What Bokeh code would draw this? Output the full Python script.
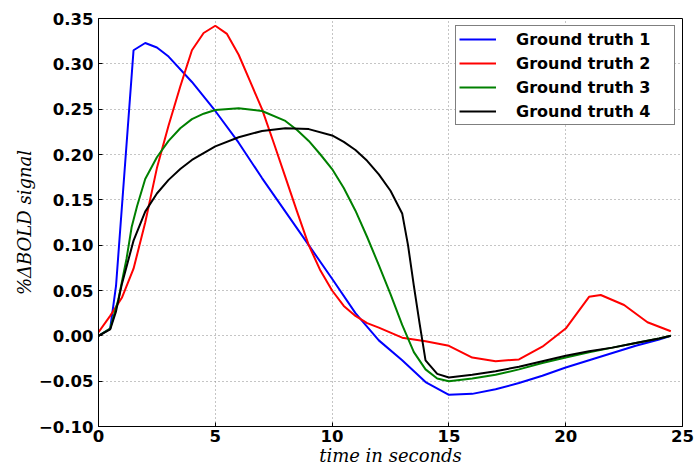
from bokeh.plotting import figure
from bokeh.models import Range1d, FixedTicker
from bokeh.embed import file_html
from bokeh.resources import INLINE

# ---- data ----
t1 = [0, 0.5, 0.75, 1.5, 2.0, 2.5, 3, 4, 5, 6, 7, 8, 9, 10, 11, 12, 13, 14, 15,
      16, 17, 18, 19, 20, 21, 22, 23, 24, 24.5]
gt1 = [0, 0.008, 0.055, 0.315, 0.323, 0.318, 0.308, 0.28, 0.248, 0.213, 0.174,
       0.137, 0.100, 0.063, 0.025, -0.005, -0.027, -0.051, -0.065, -0.064,
       -0.059, -0.052, -0.044, -0.035, -0.027, -0.019, -0.011, -0.004, 0.0]

t2 = [0, 0.5, 1, 1.5, 2, 2.5, 3, 3.5, 4, 4.5, 5, 5.5, 6, 6.5, 7, 7.5, 8, 8.5, 9,
      9.5, 10, 10.5, 11, 11.5, 12, 13, 14, 15, 16, 17, 18, 19, 20, 21, 21.5,
      22.5, 23.5, 24.5]
gt2 = [0.004, 0.022, 0.042, 0.074, 0.125, 0.185, 0.232, 0.275, 0.315, 0.334,
       0.342, 0.333, 0.31, 0.28, 0.25, 0.213, 0.175, 0.137, 0.1, 0.072, 0.05,
       0.033, 0.022, 0.014, 0.009, -0.002, -0.006, -0.011, -0.024, -0.028,
       -0.026, -0.012, 0.008, 0.043, 0.045, 0.034, 0.015, 0.005]

t3 = [0, 0.5, 0.85, 1.2, 1.42, 1.65, 2, 2.5, 3, 3.5, 4, 4.5, 5, 6, 7, 8, 8.5, 9,
      9.5, 10, 10.5, 11, 11.5, 12, 12.5, 13, 13.5, 14, 14.5, 15, 16, 17, 18, 19,
      20, 21, 22, 23, 24, 24.5]
gt3 = [0, 0.008, 0.04, 0.085, 0.12, 0.143, 0.173, 0.197, 0.215, 0.229, 0.239,
       0.245, 0.249, 0.251, 0.248, 0.237, 0.227, 0.215, 0.2, 0.184, 0.163,
       0.138, 0.109, 0.078, 0.046, 0.012, -0.018, -0.037, -0.047, -0.05,
       -0.047, -0.043, -0.037, -0.03, -0.024, -0.018, -0.013, -0.008, -0.003, 0]

t4 = [0, 0.5, 0.75, 1, 1.5, 2, 2.5, 3, 3.5, 4, 5, 6, 7, 8, 9, 10, 10.5, 11,
      11.5, 12, 12.5, 13, 13.25, 13.5, 13.75, 14, 14.5, 15, 16, 17, 18, 19, 20,
      21, 22, 23, 24, 24.5]
gt4 = [0, 0.007, 0.027, 0.057, 0.105, 0.137, 0.157, 0.172, 0.184, 0.194,
       0.209, 0.219, 0.226, 0.229, 0.228, 0.221, 0.214, 0.205, 0.193, 0.178,
       0.16, 0.135, 0.1, 0.055, 0.013, -0.027, -0.042, -0.046, -0.043, -0.039,
       -0.034, -0.028, -0.022, -0.017, -0.013, -0.008, -0.003, 0]

series_names = ["Ground truth 1", "Ground truth 2", "Ground truth 3", "Ground truth 4"]
series_colors = ["#0000ff", "#ff0000", "#008000", "#000000"]

x_ticks = [0, 5, 10, 15, 20, 25]
x_tick_labels = ["0", "5", "10", "15", "20", "25"]
y_ticks = [-0.10, -0.05, 0.00, 0.05, 0.10, 0.15, 0.20, 0.25, 0.30, 0.35]
y_tick_labels = ["\u22120.10", "\u22120.05", "0.00", "0.05", "0.10", "0.15",
                 "0.20", "0.25", "0.30", "0.35"]

x_label = "time in seconds"
y_label = "%\u0394BOLD signal"

# ---- figure ----
p = figure(width=694, height=468, output_backend="svg", toolbar_location=None,
           x_range=Range1d(0, 25), y_range=Range1d(-0.10, 0.35),
           min_border_left=98, min_border_top=18, min_border_right=12,
           min_border_bottom=0)
p.background_fill_color = "white"
p.border_fill_color = "white"
p.outline_line_color = "black"
p.outline_line_width = 1

for t, v, name, col in zip([t1, t2, t3, t4], [gt1, gt2, gt3, gt4],
                           series_names, series_colors):
    p.line(t, v, line_color=col, line_width=2, legend_label=name)

# axes
p.xaxis.ticker = FixedTicker(ticks=x_ticks)
p.yaxis.ticker = FixedTicker(ticks=y_ticks)
p.xaxis.major_label_overrides = dict(zip(x_ticks, x_tick_labels))
p.yaxis.major_label_overrides = dict(zip(y_ticks, y_tick_labels))
for ax in (p.xaxis[0], p.yaxis[0]):
    ax.major_label_text_font = "DejaVu Sans"
    ax.major_label_text_font_style = "bold"
    ax.major_label_text_font_size = "16.5px"
    ax.major_label_text_color = "black"
    ax.axis_line_color = "black"
    ax.major_tick_in = 4
    ax.major_tick_out = 0
    ax.major_tick_line_color = "black"
    ax.minor_tick_line_color = None
    ax.axis_label_text_font = "DejaVu Serif"
    ax.axis_label_text_font_style = "italic"
    ax.axis_label_text_font_size = "18px"
    ax.axis_label_text_color = "black"
p.xaxis.axis_label = x_label
p.yaxis.axis_label = y_label
p.xaxis.major_label_standoff = 3
p.yaxis.major_label_standoff = 5
p.xaxis.axis_label_standoff = 0
p.yaxis.axis_label_standoff = 1

# grid
for g in (p.xgrid[0], p.ygrid[0]):
    g.grid_line_color = "#8a8a8a"
    g.grid_line_dash = "1 3"
    g.grid_line_width = 1

# legend
lg = p.legend[0]
lg.location = "top_right"
lg.margin = 7
lg.border_line_color = "black"
lg.border_line_width = 1
lg.background_fill_color = "white"
lg.background_fill_alpha = 1
lg.label_text_font = "DejaVu Sans"
lg.label_text_font_style = "bold"
lg.label_text_font_size = "16px"
lg.label_text_color = "black"
lg.glyph_width = 37
lg.glyph_height = 20
lg.label_height = 20
lg.label_width = 155
lg.label_standoff = 20
lg.spacing = 4
lg.padding = 3

open("out.html", "w").write(file_html(p, INLINE))
